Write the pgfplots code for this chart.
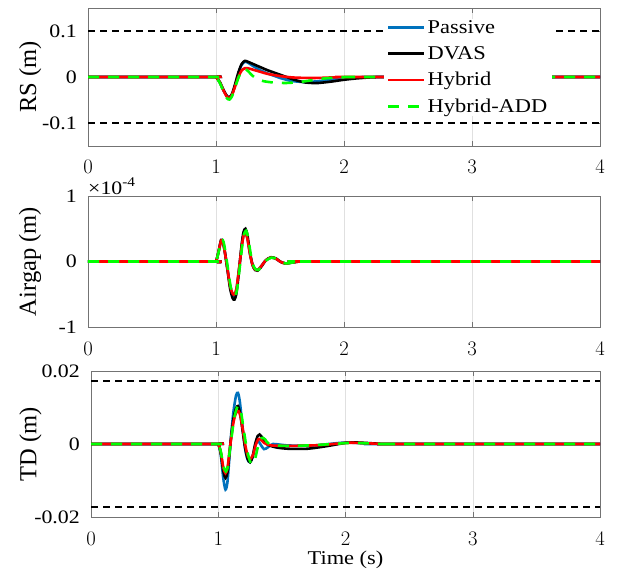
\documentclass[border=0pt]{standalone}
\usepackage{pgfplots}
\pgfplotsset{compat=1.18}
\usepackage{fontspec}
\setmainfont[FakeStretch=1.15]{Liberation Serif}
\newfontfamily\ylabfont{Liberation Serif}
\definecolor{mblue}{rgb}{0,0.447,0.741}
\pgfplotsset{
  panel/.style={
    scale only axis, width=512bp,
    xmin=0, xmax=4, xtick={0,1,2,3,4},
    axis line style={black!55}, tick style={black!55, thin},
    major tick length=5bp,
    xmajorgrids, grid style={black!12, thin},
    tick label style={font=\fontsize{19bp}{22bp}\selectfont},
    xticklabel style={anchor=base, yshift=-28bp},
    yticklabel style={anchor=east, inner sep=0pt, xshift=-11bp},
    ylabel style={at={(axis description cs:-0.113,0.5)}, anchor=center,
      font=\ylabfont\fontsize{24.5bp}{28bp}\selectfont},
    xlabel style={font=\fontsize{19.5bp}{22bp}\selectfont},
    scaled y ticks=false, clip mode=individual,
  },
  passive/.style={mblue, line width=2.6bp, smooth, tension=0.45},
  dvas/.style={black, line width=2.6bp, smooth, tension=0.45},
  hybrid/.style={red, line width=2.6bp, smooth, tension=0.45},
  hadd/.style={green, line width=2.6bp, dash pattern=on 11bp off 9bp, smooth, tension=0.45},
  limit/.style={black, line width=1.7bp, dash pattern=on 7bp off 5bp, forget plot},
}
\begin{document}
\begin{tikzpicture}
\path[use as bounding box] (0,0) rectangle (621bp,-570bp);

% ---- RS ----
\begin{axis}[panel, at={(88bp,-8bp)}, anchor=north west, height=138bp,
  ymin=-0.15, ymax=0.15, ytick={-0.1,0,0.1}, yticklabels={-0.1,0,0.1},
  ylabel={RS (m)},
  legend style={at={(axis description cs:0.578,0.925)}, anchor=north west,
    draw=none, fill=white, inner xsep=3bp, inner ysep=0bp,
    font=\fontsize{19.5bp}{16bp}\selectfont, row sep=7.5bp},
  legend cell align=left,
  legend image code/.code={\draw[#1, line width=2.6bp] (0bp,0bp) -- (36bp,0bp);},
  ]
\addplot[limit] coordinates {(0,0.1) (4,0.1)};
\addplot[limit] coordinates {(0,-0.1) (4,-0.1)};
\addplot[passive] coordinates {(0,0)(0.98,0)(1.0,0)(1.03,-0.012)(1.06,-0.03)(1.085,-0.042)(1.105,-0.045)(1.125,-0.038)(1.15,-0.017)(1.175,0.008)(1.2,0.026)(1.225,0.033)(1.25,0.031)(1.3,0.022)(1.35,0.014)(1.4,0.008)(1.45,0.003)(1.5,-0.002)(1.55,-0.006)(1.6,-0.009)(1.7,-0.011)(1.8,-0.009)(1.9,-0.006)(2.0,-0.003)(2.1,-0.001)(2.2,0)(2.25,0)(4,0)};
\addlegendentry{\strut Passive}
\addplot[dvas] coordinates {(0,0)(0.98,0)(1.0,0)(1.03,-0.011)(1.06,-0.029)(1.085,-0.041)(1.105,-0.044)(1.125,-0.037)(1.15,-0.015)(1.175,0.01)(1.2,0.028)(1.225,0.035)(1.25,0.033)(1.3,0.027)(1.35,0.021)(1.4,0.015)(1.45,0.01)(1.5,0.005)(1.55,0.0)(1.6,-0.005)(1.65,-0.009)(1.7,-0.012)(1.75,-0.013)(1.8,-0.013)(1.9,-0.01)(2.0,-0.006)(2.1,-0.003)(2.2,-0.001)(2.3,0)(2.35,0)(4,0)};
\addlegendentry{\strut DVAS}
\addplot[hybrid] coordinates {(0,0)(0.98,0)(1.0,0)(1.03,-0.012)(1.06,-0.03)(1.085,-0.043)(1.105,-0.046)(1.125,-0.039)(1.15,-0.02)(1.175,0.0)(1.2,0.014)(1.225,0.019)(1.25,0.019)(1.3,0.015)(1.35,0.011)(1.4,0.007)(1.5,0.002)(1.6,-0.001)(1.7,-0.002)(1.8,-0.002)(1.9,-0.001)(2.0,0)(2.05,0)(4,0)};
\addlegendentry{\strut Hybrid}
\addplot[hadd] coordinates {(0,0)(0.98,0)(1.0,0)(1.03,-0.013)(1.06,-0.032)(1.085,-0.046)(1.105,-0.049)(1.125,-0.042)(1.15,-0.022)(1.175,-0.002)(1.2,0.013)(1.225,0.017)(1.25,0.013)(1.28,0.004)(1.32,-0.004)(1.37,-0.009)(1.45,-0.012)(1.55,-0.013)(1.65,-0.011)(1.75,-0.007)(1.85,-0.003)(1.95,-0.001)(2.05,0)(2.1,0)(4,0)};
\addlegendentry{\strut Hybrid-ADD}
\end{axis}

% ---- Airgap ----
\begin{axis}[panel, at={(88bp,-196bp)}, anchor=north west, height=131bp,
  ymin=-1, ymax=1, ytick={-1,0,1}, yticklabels={-1,0,1},
  ylabel={Airgap (m)},
  ]
\node[anchor=south west, inner sep=0pt, font=\fontsize{19bp}{22bp}\selectfont]
  at (axis description cs:0.0,1.01) {×10\textsuperscript{-4}};
\addplot[passive] coordinates {(0,0)(0.98,0)(1.0,0)(1.02,0.15)(1.04,0.32)(1.055,0.29)(1.07,0.13)(1.09,-0.12)(1.11,-0.38)(1.13,-0.51)(1.145,-0.52)(1.16,-0.43)(1.18,-0.12)(1.2,0.22)(1.215,0.4)(1.23,0.44)(1.245,0.36)(1.265,0.12)(1.285,-0.05)(1.305,-0.12)(1.325,-0.13)(1.35,-0.08)(1.39,0.02)(1.43,0.06)(1.47,0.04)(1.5,0.0)(1.54,-0.03)(1.58,-0.02)(1.65,0)(1.7,0)(4,0)};
\addplot[dvas] coordinates {(0,0)(0.98,0)(1.0,0)(1.02,0.15)(1.04,0.33)(1.055,0.3)(1.07,0.14)(1.09,-0.13)(1.11,-0.41)(1.13,-0.56)(1.145,-0.58)(1.16,-0.48)(1.18,-0.14)(1.2,0.25)(1.215,0.45)(1.23,0.5)(1.245,0.41)(1.265,0.14)(1.285,-0.05)(1.305,-0.13)(1.325,-0.14)(1.35,-0.09)(1.39,0.02)(1.43,0.065)(1.47,0.045)(1.5,0.0)(1.54,-0.03)(1.58,-0.02)(1.65,0)(1.7,0)(4,0)};
\addplot[hybrid] coordinates {(0,0)(0.98,0)(1.0,0)(1.02,0.15)(1.04,0.32)(1.055,0.29)(1.07,0.13)(1.09,-0.12)(1.11,-0.37)(1.13,-0.49)(1.145,-0.5)(1.16,-0.41)(1.18,-0.11)(1.2,0.21)(1.215,0.39)(1.23,0.43)(1.245,0.35)(1.265,0.12)(1.285,-0.05)(1.305,-0.12)(1.325,-0.13)(1.35,-0.08)(1.39,0.02)(1.43,0.06)(1.47,0.04)(1.5,0.0)(1.54,-0.03)(1.58,-0.02)(1.65,0)(1.7,0)(4,0)};
\addplot[hadd] coordinates {(0,0)(0.98,0)(1.0,0)(1.02,0.14)(1.045,0.33)(1.06,0.29)(1.075,0.13)(1.095,-0.13)(1.115,-0.39)(1.135,-0.51)(1.15,-0.52)(1.165,-0.42)(1.185,-0.1)(1.205,0.24)(1.22,0.42)(1.235,0.47)(1.25,0.38)(1.27,0.13)(1.29,-0.05)(1.31,-0.12)(1.33,-0.13)(1.355,-0.08)(1.395,0.02)(1.435,0.06)(1.475,0.04)(1.505,0.0)(1.545,-0.03)(1.585,-0.02)(1.65,0)(1.7,0)(4,0)};
\end{axis}

% ---- TD ----
\begin{axis}[panel, at={(91bp,-371bp)}, anchor=north west, height=146bp, width=509bp,
  ymin=-0.02, ymax=0.02, ytick={-0.02,0,0.02}, yticklabels={-0.02,0,0.02},
  ylabel={TD (m)}, xlabel={Time (s)},
  ylabel style={at={(axis description cs:-0.119,0.5)}},
  xlabel style={at={(axis description cs:0.5,0)}, anchor=base, yshift=-47bp},
  ]
\addplot[limit] coordinates {(0,0.0172) (4,0.0172)};
\addplot[limit] coordinates {(0,-0.0172) (4,-0.0172)};
\addplot[passive] coordinates {(0,0)(0.98,0)(1.0,0)(1.02,-0.003)(1.04,-0.0095)(1.057,-0.0125)(1.072,-0.0105)(1.087,-0.004)(1.1,0.002)(1.12,0.009)(1.14,0.0133)(1.155,0.014)(1.17,0.0115)(1.19,0.005)(1.21,-0.001)(1.23,-0.0042)(1.25,-0.005)(1.27,-0.0035)(1.29,-0.0005)(1.31,0.001)(1.33,0.0)(1.36,-0.0014)(1.39,-0.0009)(1.43,0)(1.55,-0.0004)(1.75,-0.0004)(2.0,0.0004)(2.2,0)(2.25,0)(4,0)};
\addplot[dvas] coordinates {(0,0)(0.98,0)(1.0,0)(1.02,-0.0025)(1.04,-0.0075)(1.057,-0.0093)(1.072,-0.0078)(1.087,-0.003)(1.1,0.0015)(1.12,0.007)(1.14,0.0098)(1.155,0.0104)(1.17,0.0088)(1.19,0.004)(1.21,-0.0008)(1.23,-0.004)(1.25,-0.005)(1.27,-0.0035)(1.29,0.0)(1.31,0.0022)(1.325,0.0026)(1.345,0.0018)(1.38,0.0)(1.45,-0.0009)(1.55,-0.0013)(1.7,-0.0013)(1.85,-0.0006)(2.0,0.0003)(2.1,0.0004)(2.3,0)(2.35,0)(4,0)};
\addplot[hybrid] coordinates {(0,0)(0.98,0)(1.0,0)(1.02,-0.0022)(1.04,-0.0065)(1.057,-0.008)(1.072,-0.0067)(1.087,-0.0025)(1.1,0.0012)(1.12,0.006)(1.14,0.0085)(1.16,0.009)(1.175,0.0075)(1.195,0.0035)(1.215,-0.0008)(1.235,-0.0035)(1.255,-0.004)(1.275,-0.0028)(1.295,-0.0002)(1.315,0.0013)(1.33,0.0014)(1.36,0.0003)(1.42,-0.0004)(1.6,-0.0005)(1.8,-0.0003)(2.0,0.0003)(2.1,0.0003)(2.3,0)(2.35,0)(4,0)};
\addplot[hadd] coordinates {(0,0)(0.98,0)(1.0,0)(1.02,-0.002)(1.04,-0.006)(1.06,-0.0075)(1.075,-0.0062)(1.09,-0.002)(1.105,0.002)(1.125,0.007)(1.145,0.0098)(1.16,0.0104)(1.18,0.0085)(1.2,0.004)(1.225,-0.0015)(1.25,-0.0048)(1.27,-0.0055)(1.29,-0.004)(1.31,-0.001)(1.33,0.0012)(1.35,0.0017)(1.37,0.0012)(1.4,0.0)(1.5,-0.0005)(1.7,-0.0004)(1.9,0.0)(2.05,0.0003)(2.3,0)(2.35,0)(4,0)};
\end{axis}
\end{tikzpicture}
\end{document}
